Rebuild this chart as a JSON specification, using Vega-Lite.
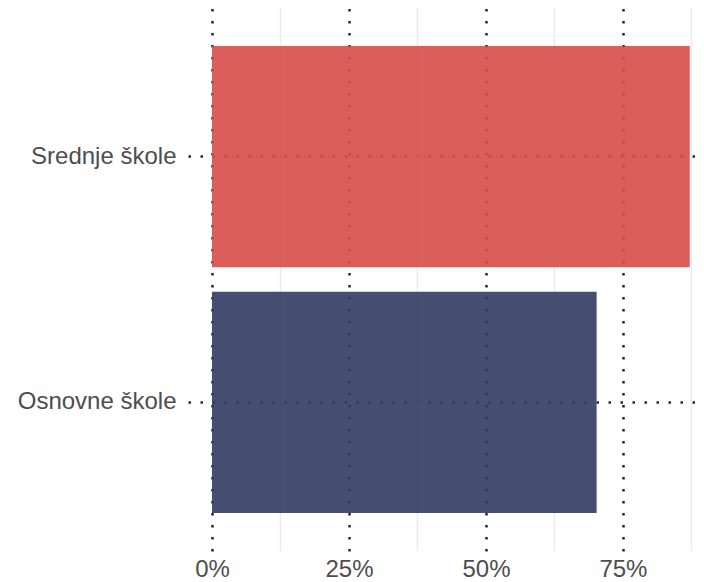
{
  "$schema": "https://vega.github.io/schema/vega-lite/v6.json",
  "width": 510,
  "height": 543,
  "autosize": {"type": "none"},
  "padding": {"left": 188, "top": 8, "right": 6, "bottom": 31},
  "background": "white",
  "config": {
    "view": {"stroke": null},
    "font": "Liberation Sans"
  },
  "data": {"values": [
    {"type": "Srednje škole", "share": 0.872},
    {"type": "Osnovne škole", "share": 0.702}
  ]},
  "layer": [
    {
      "data": {"values": [{"v": 0.125}, {"v": 0.375}, {"v": 0.625}, {"v": 0.875}]},
      "mark": {"type": "rule", "color": "#ebebeb", "strokeWidth": 1.5},
      "encoding": {
        "x": {"field": "v", "type": "quantitative", "scale": {"domain": [-0.0438, 0.887], "nice": false, "zero": false}}
      }
    },
    {
      "mark": {"type": "bar", "opacity": 0.9},
      "encoding": {
        "y": {
          "field": "type", "type": "nominal", "sort": ["Srednje škole", "Osnovne škole"],
          "scale": {"paddingInner": 0.1, "paddingOuter": 0.155},
          "axis": {
            "title": null, "domain": false, "ticks": false,
            "labelFontSize": 24, "labelColor": "#4d4d4d", "labelPadding": 12,
            "grid": true, "bandPosition": 0.5, "gridColor": "#22263a", "gridDash": [2.5, 9.5], "gridWidth": 2.5
          }
        },
        "x": {
          "field": "share", "type": "quantitative",
          "scale": {"domain": [-0.0438, 0.887], "nice": false, "zero": false},
          "axis": {
            "title": null, "domain": false, "ticks": false, "format": ".0%",
            "values": [0, 0.25, 0.5, 0.75],
            "labelFontSize": 24, "labelColor": "#4d4d4d", "labelPadding": 6,
            "grid": true, "gridColor": "#22263a", "gridDash": [2.5, 9.5], "gridWidth": 2.5
          }
        },
        "color": {
          "field": "type", "type": "nominal",
          "scale": {"domain": ["Srednje škole", "Osnovne škole"], "range": ["#d84c49", "#323b62"]},
          "legend": null
        }
      }
    }
  ]
}
